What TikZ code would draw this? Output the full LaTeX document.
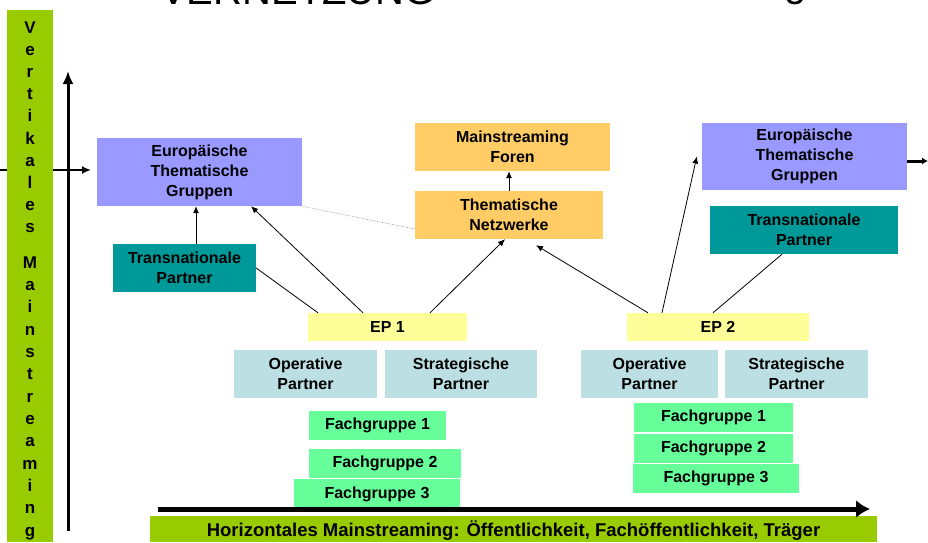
\documentclass[tikz,border=0pt]{standalone}
\usepackage{fontspec}
\setmainfont{Liberation Sans}
\usetikzlibrary{arrows.meta,calc}
\definecolor{vbar}{HTML}{99CC00}
\definecolor{etg}{HTML}{9999FF}
\definecolor{tpc}{HTML}{009999}
\definecolor{orng}{HTML}{FFCC66}
\definecolor{epy}{HTML}{FFFF99}
\definecolor{partner}{HTML}{BBDFE2}
\definecolor{fgc}{HTML}{66FF99}
\definecolor{dotgray}{HTML}{A0A0A0}
\begin{document}
\begin{tikzpicture}[x=1pt,y=-1pt,
  box/.style={rectangle,inner sep=0pt,align=center,font=\bfseries\fontsize{16}{20}\selectfont},
  bx/.style n args={3}{box,fill=#1,minimum width=#2,minimum height=#3},
  vl/.style={anchor=base,inner sep=0pt,font=\bfseries\fontsize{17}{17}\selectfont},
  arr/.style={-{Latex[length=7pt,width=6pt]},line width=0.8pt},
  ln/.style={line width=0.8pt}]
\useasboundingbox (0,0) rectangle (928,542);
% title (cut off at the top)
\begin{scope}
\clip (0,0) rectangle (928,542);
\node[anchor=base west,inner sep=0pt,font=\fontsize{40}{40}\selectfont] (title) at (160,4) {VERNETZUNG};
\node[anchor=base west,inner sep=0pt,font=\fontsize{40}{40}\selectfont] (titleg) at (784,-3.5) {g};
\end{scope}
% left horizontal arrow (behind the bar)
\coordinate (hl0) at (0,170);
\coordinate (hl1) at (91,170);
\draw[-{Latex[length=9pt,width=8pt]},line width=2pt] (hl0) -- (hl1);
% vertical bar
\fill[vbar] (7,10) rectangle (53,542);
\foreach \l [count=\i from 0] in {V,e,r,t,i,k,a,l,e,s}
  \node[vl] (va\i) at (30,{33+22.2*\i}) {\l};
\foreach \l [count=\i from 0] in {M,a,i,n,s,t,r,e,a,m,i,n,g}
  \node[vl] (vb\i) at (30,{268+22.35*\i}) {\l};
% vertical axis
\coordinate (vbot) at (68,531);
\coordinate (vtop) at (68,71);
\draw[-{Latex[length=13pt,width=11pt]},line width=3pt] (vbot) -- (vtop);
% boxes
\node[bx={etg}{205pt}{68pt}] (eleft) at (199.5,172) {Europäische\\Thematische\\Gruppen};
\node[bx={tpc}{143pt}{48pt}] (tpleft) at (184.5,268) {Transnationale\\Partner};
\node[bx={orng}{195pt}{48pt}] (mf) at (512.5,147) {Mainstreaming\\Foren};
\node[bx={orng}{188pt}{48pt}] (tn) at (509,215) {Thematische\\Netzwerke};
\node[bx={etg}{205pt}{67pt}] (eright) at (804.5,156.5) {Europäische\\Thematische\\Gruppen};
\node[bx={tpc}{188pt}{48pt}] (tpright) at (804,230) {Transnationale\\Partner};
\node[bx={epy}{159pt}{28pt}] (ep1) at (387.5,327) {EP 1};
\node[bx={epy}{182pt}{28pt}] (ep2) at (718,327) {EP 2};
\node[bx={partner}{143pt}{48pt}] (op1) at (305.5,374) {Operative\\Partner};
\node[bx={partner}{152pt}{48pt}] (sp1) at (461,374) {Strategische\\Partner};
\node[bx={partner}{137pt}{48pt}] (op2) at (649.5,374) {Operative\\Partner};
\node[bx={partner}{143pt}{48pt}] (sp2) at (796.5,374) {Strategische\\Partner};
\node[bx={fgc}{137pt}{29pt}] (fg1l) at (377.5,425.5) {Fachgruppe 1};
\node[bx={fgc}{152pt}{29pt}] (fg2l) at (385,463.5) {Fachgruppe 2};
\node[bx={fgc}{166pt}{30pt}] (fg3l) at (377,494) {Fachgruppe 3};
\node[bx={fgc}{159pt}{29pt}] (fg1r) at (713.5,417.5) {Fachgruppe 1};
\node[bx={fgc}{159pt}{29pt}] (fg2r) at (713.5,448.5) {Fachgruppe 2};
\node[bx={fgc}{166pt}{29pt}] (fg3r) at (716,478.5) {Fachgruppe 3};
% connectors
\draw[arr] (tpleft.north) ++(11.5pt,0) coordinate (tpl1) (tpl1) -- (tpl1 |- eleft.south);
\draw[arr] (tn.north) -- (tn.north |- mf.south);
\draw[dotgray,densely dotted,line width=0.7pt] (eleft.south east) -- ([yshift=-14pt]tn.west);
\draw[ln] ([xshift=-69.5pt]ep1.north) -- (tpleft.east);
\draw[arr] ([xshift=-24.5pt]ep1.north) -- ([xshift=51.5pt]eleft.south);
\draw[arr] ([xshift=42.5pt]ep1.north) -- ([xshift=-4pt]tn.south);
\draw[arr] ([xshift=-70pt]ep2.north) -- ([xshift=27pt,yshift=-6pt]tn.south);
\draw[arr] ([xshift=-56pt]ep2.north) -- ([xshift=-5pt]eright.west);
\draw[ln] ([xshift=-5pt]ep2.north) -- ([xshift=-22pt]tpright.south);
\coordinate (rarr) at (928,161);
\draw[-{Latex[length=6pt,width=7pt]},line width=3pt] (eright.east |- rarr) -- (rarr);
% bottom bar and arrow
\fill[vbar] (150,516) rectangle (877,542);
\node[box,font=\bfseries\fontsize{18.5}{18.5}\selectfont] (hbar) at (513.5,531) {Horizontales Mainstreaming: Öffentlichkeit, Fachöffentlichkeit, Träger};
\coordinate (hb0) at (158,509);
\coordinate (hb1) at (870,509);
\draw[-{Latex[length=14pt,width=18pt]},line width=5pt] (hb0) -- (hb1);
\end{tikzpicture}
\end{document}
